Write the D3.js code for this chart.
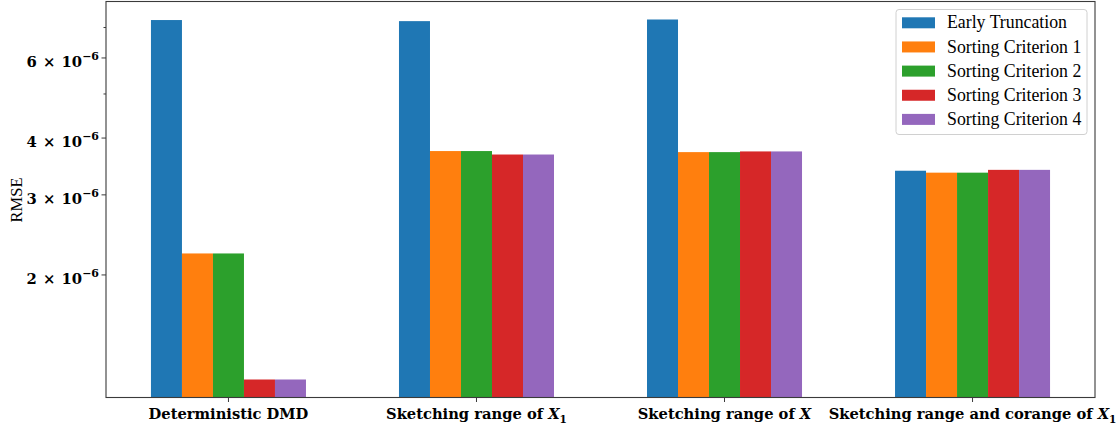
<!DOCTYPE html>
<html lang="en">
<head>
<meta charset="UTF-8">
<title>RMSE bar chart</title>
<script src="https://cdnjs.cloudflare.com/ajax/libs/d3/7.8.5/d3.min.js"></script>
<style>
  html, body { margin: 0; padding: 0; background: #fff; }
  svg { display: block; }
  .bold { font-family: "DejaVu Serif", serif; font-weight: bold; fill: #000; }
  .reg { font-family: "Liberation Serif", serif; fill: #000; }
</style>
</head>
<body>
<svg id="chart" width="1120" height="428"></svg>
<script>
// categories (x groups); "sub" marks the italic X and its subscript
const categories = [
  { text: "Deterministic DMD", x: null, sub: null },
  { text: "Sketching range of ", x: "X", sub: "1" },
  { text: "Sketching range of ", x: "X", sub: null },
  { text: "Sketching range and corange of ", x: "X", sub: "1" }
];

const seriesNames = ["Early Truncation", "Sorting Criterion 1", "Sorting Criterion 2", "Sorting Criterion 3", "Sorting Criterion 4"];
const colors = ["#1f77b4", "#ff7f0e", "#2ca02c", "#d62728", "#9467bd"];

// RMSE, one array per series
const earlyTruncation = [7.27e-6, 7.23e-6, 7.29e-6, 3.39e-6];
const sorting1 = [2.23e-6, 3.745e-6, 3.725e-6, 3.357e-6];
const sorting2 = [2.23e-6, 3.745e-6, 3.725e-6, 3.357e-6];
const sorting3 = [1.178e-6, 3.68e-6, 3.738e-6, 3.405e-6];
const sorting4 = [1.178e-6, 3.68e-6, 3.738e-6, 3.405e-6];
const series = [earlyTruncation, sorting1, sorting2, sorting3, sorting4];

// y tick labels: mantissa of m x 10^-6
const labeledTicks = [2, 3, 4, 6];
const unlabeledTicks = [5, 7];

const svg = d3.select("#chart");
const plot = { left: 106, right: 1095, top: 1.5, bottom: 397.5 };
const barW = 0.125;

// x scale: group index, with 5% margin like matplotlib
const xMin = -2 * barW - barW / 2, xMax = categories.length - 1 + 2 * barW + barW / 2;
const xPad = (xMax - xMin) * 0.05;
const x = d3.scaleLinear().domain([xMin - xPad, xMax + xPad]).range([plot.left, plot.right]);

// log y scale with 5% margin in log space
const all = series.flat();
const lo = Math.log10(d3.min(all)), hi = Math.log10(d3.max(all));
const lPad = (hi - lo) * 0.05;
const y = d3.scaleLog().domain([Math.pow(10, lo - lPad), Math.pow(10, hi + lPad)]).range([plot.bottom, plot.top]);

// bars
series.forEach((vals, s) => {
  svg.append("g")
    .selectAll("rect")
    .data(vals)
    .join("rect")
    .attr("x", (d, i) => x(i + (s - 2) * barW - barW / 2))
    .attr("width", x(barW) - x(0))
    .attr("y", d => y(d))
    .attr("height", d => plot.bottom - y(d))
    .attr("fill", colors[s]);
});

// spines
svg.append("rect")
  .attr("x", plot.left).attr("y", plot.top)
  .attr("width", plot.right - plot.left).attr("height", plot.bottom - plot.top)
  .attr("fill", "none").attr("stroke", "#3a3a3a").attr("stroke-width", 1.1);

// y ticks
const yAxis = svg.append("g");
unlabeledTicks.forEach(m => {
  const yy = y(m * 1e-6);
  yAxis.append("line").attr("x1", plot.left - 2.5).attr("x2", plot.left)
    .attr("y1", yy).attr("y2", yy).attr("stroke", "#3a3a3a").attr("stroke-width", 1);
});
labeledTicks.forEach(m => {
  const yy = y(m * 1e-6);
  yAxis.append("line").attr("x1", plot.left - 4.5).attr("x2", plot.left)
    .attr("y1", yy).attr("y2", yy).attr("stroke", "#3a3a3a").attr("stroke-width", 1);
  const t = yAxis.append("text").attr("class", "bold")
    .attr("x", 99).attr("y", yy + 9.3)
    .attr("text-anchor", "end").attr("font-size", 14.8);
  t.append("tspan").text(m);
  t.append("tspan").attr("dx", 1).text(" \u00d7 ");
  t.append("tspan").attr("dx", 1).text("10");
  t.append("tspan").attr("font-size", 11).attr("dy", -7.5).text("\u22126");
});

// y label
svg.append("text").attr("class", "reg")
  .attr("transform", "translate(21.5,200) rotate(-90)")
  .attr("text-anchor", "middle").attr("font-size", 16.5)
  .text("RMSE");

// x ticks and labels
categories.forEach((c, i) => {
  const xx = x(i);
  svg.append("line").attr("x1", xx).attr("x2", xx)
    .attr("y1", plot.bottom).attr("y2", plot.bottom + 4.5)
    .attr("stroke", "#3a3a3a").attr("stroke-width", 1);
  const t = svg.append("text").attr("class", "bold")
    .attr("x", xx).attr("y", 419)
    .attr("text-anchor", "middle").attr("font-size", 14.7);
  t.append("tspan").text(c.text);
  if (c.x) t.append("tspan").attr("font-style", "italic").text(c.x);
  if (c.sub) t.append("tspan").attr("font-size", 10.5).attr("dy", 3.5).text(c.sub);
});

// legend
const lg = svg.append("g");
lg.append("rect")
  .attr("x", 896).attr("y", 9.5).attr("width", 191).attr("height", 125).attr("rx", 3)
  .attr("fill", "#fff").attr("fill-opacity", 0.8)
  .attr("stroke", "#d0d0d0").attr("stroke-width", 1);
seriesNames.forEach((name, s) => {
  const cy = 22.8 + s * 24.15;
  lg.append("rect").attr("x", 902).attr("y", cy - 5.5).attr("width", 33).attr("height", 11)
    .attr("fill", colors[s]);
  lg.append("text").attr("class", "reg")
    .attr("x", 947).attr("y", cy + 5.6).attr("font-size", 17.8)
    .text(name);
});
</script>
</body>
</html>
